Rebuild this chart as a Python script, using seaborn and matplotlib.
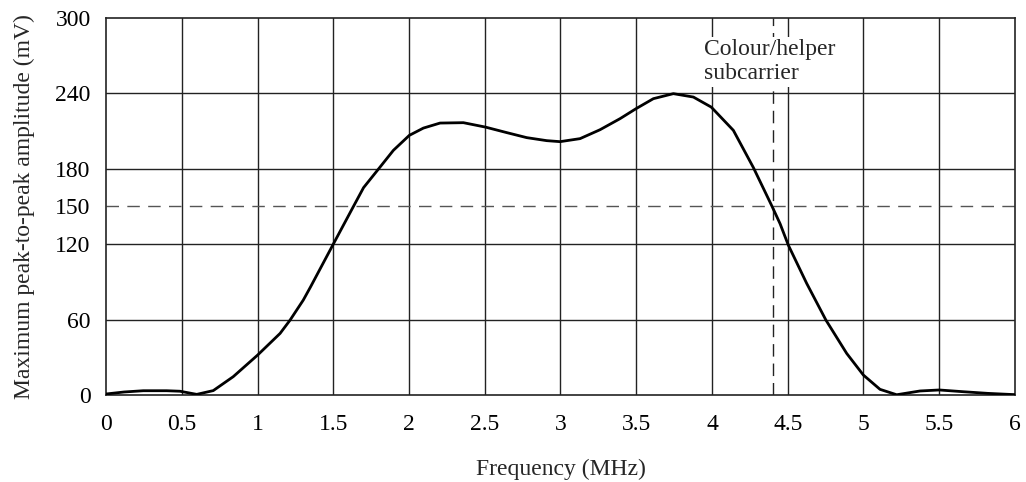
import matplotlib
matplotlib.use("Agg")
import matplotlib.pyplot as plt
import seaborn as sns
import pandas as pd

freq_mhz = [0.0, 0.12, 0.246, 0.4, 0.488, 0.599, 0.708, 0.84, 1.001, 1.149, 1.215, 1.302,
            1.35, 1.5, 1.633, 1.7, 1.809, 1.897, 2.002, 2.095, 2.205, 2.359, 2.504, 2.645,
            2.777, 2.909, 2.997, 3.129, 3.261, 3.393, 3.498, 3.613, 3.745, 3.877, 3.995,
            4.141, 4.273, 4.396, 4.449, 4.504, 4.625, 4.752, 4.889, 4.999, 5.109, 5.219,
            5.373, 5.5, 5.66, 5.82, 5.96, 6.0]
amplitude_mv = [0.8, 2.4, 3.4, 3.4, 3.0, 0.5, 3.5, 14.6, 31.8, 49, 59.6, 75.5,
                86, 120, 150, 165, 181.4, 194.7, 206.6, 212.4, 216.4, 216.7, 213.2, 208.8,
                204.8, 202.4, 201.6, 204, 211.1, 219.9, 227.8, 235.8, 239.8, 237.1, 229.1,
                210.6, 181, 150.2, 136.4, 119.2, 88.8, 59.6, 33.1, 15.9, 4.5, 0.2,
                3.2, 4.0, 2.6, 1.3, 0.5, 0.3]

x_ticks = [0, 0.5, 1, 1.5, 2, 2.5, 3, 3.5, 4, 4.5, 5, 5.5, 6]
x_tick_labels = ["0", "0.5", "1", "1.5", "2", "2.5", "3", "3.5", "4", "4.5", "5", "5.5", "6"]
y_ticks = [0, 60, 120, 150, 180, 240, 300]
y_grid = [60, 120, 180, 240]
threshold_mv = 150
subcarrier_mhz = 4.4
annotation = "Colour/helper\nsubcarrier"

sns.set_theme(style="white")
plt.rcParams["font.family"] = ["Liberation Serif", "DejaVu Serif"]

FS = 17

fig = plt.figure(figsize=(10.26, 4.82), dpi=100)
ax = fig.add_axes([106 / 1026, 1 - 395 / 482, (1015 - 106) / 1026, (395 - 18) / 482])

for xv in x_ticks[1:-1]:
    ax.axvline(xv, color="#222222", lw=1.0, zorder=1)
for yv in y_grid:
    ax.axhline(yv, color="#222222", lw=1.0, zorder=1)
ax.axhline(threshold_mv, color="#555555", lw=1.0, ls=(0, (9, 6)), zorder=1)
ax.axvline(subcarrier_mhz, color="#222222", lw=1.0, ls=(0, (9, 5)), zorder=1)

df = pd.DataFrame({"freq": freq_mhz, "amp": amplitude_mv})
sns.lineplot(data=df, x="freq", y="amp", ax=ax, color="black", lw=2.0, zorder=3)

ax.text(3.95, 283, annotation, fontsize=FS, va="top", ha="left", linespacing=1.15,
        bbox=dict(facecolor="white", edgecolor="none", pad=2.0), zorder=2)

ax.set_xlim(0, 6)
ax.set_ylim(0, 300)
ax.set_xticks(x_ticks)
ax.set_xticklabels(x_tick_labels)
ax.set_yticks(y_ticks)
ax.tick_params(axis="both", length=0, labelsize=FS, colors="black")
ax.tick_params(axis="x", pad=14)
ax.tick_params(axis="y", pad=11)
ax.set_xlabel("Frequency (MHz)", fontsize=FS, labelpad=17)
ax.set_ylabel("Maximum peak-to-peak amplitude (mV)", fontsize=FS, labelpad=15)
for s in ax.spines.values():
    s.set_visible(True)
    s.set_color("#222222")
    s.set_linewidth(1.2)

fig.savefig("out.png", dpi=100, facecolor="white")
